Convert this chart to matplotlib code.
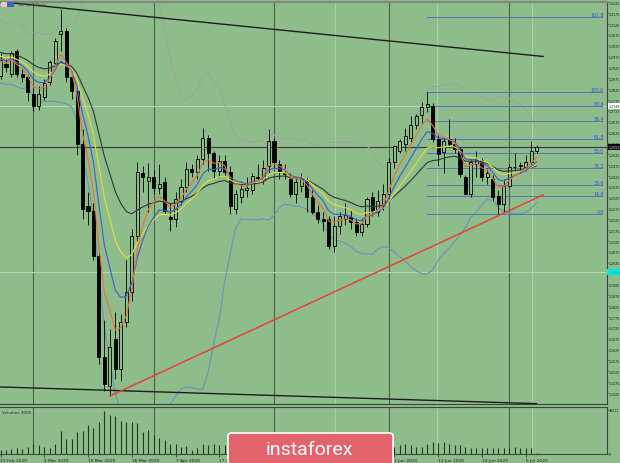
import matplotlib
matplotlib.use('Agg')
import matplotlib.pyplot as plt
import matplotlib.transforms as mtransforms
from matplotlib.patches import FancyBboxPatch, Rectangle
import numpy as np
import pandas as pd

# ---------------- data ----------------
dates = pd.bdate_range('2020-02-21', '2020-07-08')

opens = [1.2885, 1.2941, 1.2895, 1.3001, 1.2895, 1.2881, 1.2803, 1.2748, 1.2790, 1.2860,
         1.2945, 1.3079, 1.3093, 1.2881, 1.2817, 1.2573, 1.2287, 1.2264, 1.2056, 1.1590,
         1.1457, 1.1674, 1.1536, 1.1752, 1.1891, 1.2149, 1.2440, 1.2400, 1.2420, 1.2370,
         1.2397, 1.2236, 1.2227, 1.2310, 1.2374, 1.2457, 1.2443, 1.2503, 1.2600, 1.2530,
         1.2448, 1.2494, 1.2443, 1.2273, 1.2328, 1.2360, 1.2360, 1.2420, 1.2410, 1.2471,
         1.2586, 1.2480, 1.2440, 1.2411, 1.2342, 1.2380, 1.2402, 1.2328, 1.2259, 1.2227,
         1.2227, 1.2103, 1.2195, 1.2225, 1.2236, 1.2213, 1.2167, 1.2204, 1.2328, 1.2259,
         1.2287, 1.2342, 1.2490, 1.2540, 1.2573, 1.2600, 1.2660, 1.2705, 1.2745, 1.2750,
         1.2596, 1.2536, 1.2596, 1.2573, 1.2550, 1.2420, 1.2342, 1.2480, 1.2500, 1.2420,
         1.2411, 1.2333, 1.2296, 1.2379, 1.2467, 1.2470, 1.2467, 1.2490, 1.2540]
highs = [1.2990, 1.2965, 1.3000, 1.3010, 1.2925, 1.2890, 1.2830, 1.2840, 1.2870, 1.2960,
         1.3060, 1.3195, 1.3105, 1.2915, 1.2830, 1.2640, 1.2350, 1.2300, 1.2080, 1.1760,
         1.1720, 1.1798, 1.1790, 1.2040, 1.2180, 1.2490, 1.2470, 1.2485, 1.2455, 1.2480,
         1.2420, 1.2300, 1.2350, 1.2410, 1.2490, 1.2480, 1.2520, 1.2645, 1.2615, 1.2540,
         1.2520, 1.2520, 1.2470, 1.2360, 1.2400, 1.2420, 1.2440, 1.2480, 1.2500, 1.2642,
         1.2600, 1.2500, 1.2480, 1.2440, 1.2420, 1.2440, 1.2420, 1.2360, 1.2290, 1.2260,
         1.2240, 1.2240, 1.2260, 1.2300, 1.2270, 1.2230, 1.2230, 1.2330, 1.2350, 1.2360,
         1.2390, 1.2510, 1.2570, 1.2595, 1.2645, 1.2700, 1.2710, 1.2765, 1.2810, 1.2760,
         1.2620, 1.2600, 1.2690, 1.2600, 1.2560, 1.2430, 1.2500, 1.2540, 1.2510, 1.2460,
         1.2430, 1.2360, 1.2410, 1.2480, 1.2530, 1.2490, 1.2520, 1.2586, 1.2570]
lows = [1.2870, 1.2905, 1.2880, 1.2880, 1.2860, 1.2770, 1.2725, 1.2730, 1.2775, 1.2845,
        1.2930, 1.3000, 1.2860, 1.2780, 1.2520, 1.2227, 1.2200, 1.2040, 1.1560, 1.1434,
        1.1411, 1.1490, 1.1480, 1.1730, 1.1850, 1.2120, 1.2350, 1.2260, 1.2340, 1.2340,
        1.2250, 1.2170, 1.2190, 1.2290, 1.2350, 1.2420, 1.2410, 1.2480, 1.2450, 1.2410,
        1.2420, 1.2420, 1.2250, 1.2250, 1.2300, 1.2330, 1.2340, 1.2400, 1.2390, 1.2440,
        1.2460, 1.2410, 1.2410, 1.2330, 1.2300, 1.2350, 1.2260, 1.2250, 1.2210, 1.2170,
        1.2090, 1.2075, 1.2160, 1.2200, 1.2180, 1.2150, 1.2150, 1.2190, 1.2240, 1.2240,
        1.2270, 1.2330, 1.2460, 1.2530, 1.2540, 1.2580, 1.2640, 1.2670, 1.2720, 1.2580,
        1.2470, 1.2440, 1.2560, 1.2530, 1.2420, 1.2340, 1.2330, 1.2420, 1.2400, 1.2390,
        1.2310, 1.2250, 1.2260, 1.2370, 1.2450, 1.2440, 1.2450, 1.2480, 1.2530]
closes = [1.2960, 1.2927, 1.2993, 1.2895, 1.2881, 1.2812, 1.2748, 1.2803, 1.2855, 1.2950,
          1.3047, 1.3093, 1.2881, 1.2817, 1.2573, 1.2273, 1.2264, 1.2056, 1.1590, 1.1465,
          1.1637, 1.1536, 1.1752, 1.1891, 1.2149, 1.2444, 1.2420, 1.2420, 1.2370, 1.2390,
          1.2264, 1.2227, 1.2319, 1.2374, 1.2457, 1.2443, 1.2503, 1.2600, 1.2530, 1.2450,
          1.2494, 1.2443, 1.2287, 1.2342, 1.2365, 1.2370, 1.2425, 1.2418, 1.2460, 1.2586,
          1.2490, 1.2448, 1.2434, 1.2342, 1.2397, 1.2410, 1.2328, 1.2259, 1.2227, 1.2220,
          1.2103, 1.2195, 1.2241, 1.2245, 1.2213, 1.2167, 1.2204, 1.2319, 1.2259, 1.2310,
          1.2342, 1.2490, 1.2563, 1.2586, 1.2609, 1.2660, 1.2700, 1.2745, 1.2755, 1.2596,
          1.2526, 1.2586, 1.2573, 1.2550, 1.2434, 1.2342, 1.2490, 1.2500, 1.2420, 1.2440,
          1.2328, 1.2296, 1.2379, 1.2467, 1.2465, 1.2475, 1.2490, 1.2540, 1.2559]
# closes before the first visible bar (feed the moving averages / bands)
history_closes = [1.3075, 1.3075, 1.3010, 1.3005, 1.3085, 1.3205, 1.3000, 1.3020, 1.2995, 1.2935,
                  1.2890, 1.2915, 1.2950, 1.2975, 1.3045, 1.3045, 1.3005, 1.2990, 1.2955, 1.2885]
volumes = [9000, 8000, 10000, 11300, 10000, 14700, 21300, 18000, 14700, 11300,
           21300, 46000, 30000, 31300, 44700, 46000, 58000, 52700, 64700, 88000,
           79300, 78000, 66700, 64700, 64700, 63300, 44700, 48000, 38000, 32700,
           28000, 21300, 21300, 14700, 16700, 8000, 12700, 21300, 19300, 21300,
           18000, 19300, 20000, 18000, 16000, 15000, 14000, 15000, 16000, 20000,
           17000, 15000, 14000, 16000, 15000, 14000, 16000, 17000, 18000, 15000,
           19000, 20000, 16000, 14000, 15000, 13000, 10000, 17000, 16000, 14000,
           13000, 20000, 14700, 18000, 21300, 19300, 14700, 14700, 21300, 24700,
           23300, 24700, 21300, 18000, 18000, 14700, 12700, 12700, 12700, 12700,
           11300, 12700, 12700, 12700, 14700, 12700, 11300, 11300, 3000]

fib_levels = [0.0, 14.6, 23.6, 38.2, 50.0, 61.8, 76.4, 88.6, 100.0, 161.8]
fib_high_bar, fib_low_bar = 78, 91
trend_upper_x, trend_upper_y = [0.0, 99.2], [1.3228, 1.2976]
trend_lower_x, trend_lower_y = [0.0, 98.0], [1.1453, 1.1376]
trend_red_x, trend_red_y = [20.0, 99.2], [1.1411, 1.2338]
price_line = 1.2559
light_levels = [1.2748, 1.1983]
month_bars = [6, 28, 50, 71, 93]
light_vbars = [61.2, 79.8, 97.2]
vol_axis_max = 90211

# ---------------- style ----------------
BG = '#8fbc8b'
W, H, DPI = 620, 464, 100
def fx(px): return px / W
def fy(py): return 1 - py / H

fig = plt.figure(figsize=(W / DPI, H / DPI), dpi=DPI, facecolor=BG)
ax = fig.add_axes([0, fy(405), fx(607), (405 - 2.5) / H], facecolor=BG)
axv = fig.add_axes([0, fy(455), fx(607), (455 - 408) / H], facecolor=BG)

n = len(closes)
x = np.arange(n)
o = np.array(opens); h = np.array(highs); l = np.array(lows); c = np.array(closes)

xlim = ((0 - 0.5) / 5.47, (607 - 0.5) / 5.47)
ylim = (1.2250 - (405 - 215) / 2170, 1.2250 + (215 - 2.5) / 2170)

# grid / separators
for b in month_bars:
    ax.axvline(b, color='#4d5f4d', lw=0.8, zorder=1)
    axv.axvline(b, color='#4d5f4d', lw=0.8, zorder=1)
for b in light_vbars:
    ax.axvline(b, color='#a9cfa6', lw=0.8, zorder=1)
    axv.axvline(b, color='#a9cfa6', lw=0.8, zorder=1)
for lv in light_levels:
    ax.axhline(lv, color='#b2d8b0', lw=0.8, zorder=1)
ax.axhline(price_line, color='#3a3a3a', lw=0.8, zorder=2)

# indicators
allc = pd.Series(history_closes + closes)
mid = allc.rolling(20).mean()
sd = allc.rolling(20).std(ddof=0)
bb_up = (mid + 2 * sd).values[-n:]
bb_lo = (mid - 2 * sd).values[-n:]
ax.plot(x, bb_up, color='#9ba79b', lw=0.8, zorder=2)
ax.plot(x, bb_lo, color='#6d93b3', lw=0.8, zorder=2)
ema_colors = {21: '#2f3b34', 13: '#e2df3c', 8: '#3a5fd0', 5: '#e6703c'}
for span, col in ema_colors.items():
    ax.plot(x, allc.ewm(span=span, adjust=False).mean().values[-n:], color=col, lw=0.8, zorder=4)

# candles
up = c >= o
ax.vlines(x, l, h, color='black', lw=0.6, zorder=3)
bb = np.minimum(o, c)
bh = np.maximum(np.abs(c - o), 0.0003)
ax.bar(x[up], bh[up], bottom=bb[up], width=0.56, facecolor=BG, edgecolor='black', linewidth=0.6, zorder=3.5)
ax.bar(x[~up], bh[~up], bottom=bb[~up], width=0.56, facecolor='black', edgecolor='black', linewidth=0.6, zorder=3.5)

# trendlines
ax.plot(trend_upper_x, trend_upper_y, color='#1c1c1c', lw=1.0, zorder=5)
ax.plot(trend_lower_x, trend_lower_y, color='#1c1c1c', lw=1.0, zorder=5)
ax.plot(trend_red_x, trend_red_y, color='#e8413a', lw=1.1, zorder=5)

# fibonacci
f_hi, f_lo = highs[fib_high_bar], lows[fib_low_bar]
x_end = (602 - 0.5) / 5.47
for lvl in fib_levels:
    p = f_lo + (f_hi - f_lo) * lvl / 100
    ax.plot([fib_high_bar, x_end], [p, p], color='#5474bd', lw=0.7, zorder=2.5)
    ax.text(x_end + 0.3, p, f'{lvl:.1f}', ha='right', va='bottom', fontsize=3.3,
            color='#2f55d0', zorder=6)

ax.set_xlim(*xlim)
ax.set_ylim(*ylim)
ax.set_xticks([])
yt = np.round(np.arange(1.1425, 1.3226, 0.005), 4)
ax.set_yticks(yt)
ax.set_yticklabels(['' if min(abs(v - q) for q in light_levels[1:]) < 0.001 else f'{v:.4f}'
                    for v in yt])
ax.yaxis.tick_right()
ax.tick_params(axis='y', labelsize=2.3, length=1, width=0.5, pad=0.2, colors='#1a1a1a')
ax.spines['left'].set_visible(False)
ax.spines['right'].set_color('#3c463c')
ax.spines['bottom'].set_color('#3c463c')
ax.spines['top'].set_color('#7d8a7d')
ax.spines['top'].set_linewidth(1.6)

# highlighted price labels
bt = mtransforms.blended_transform_factory(ax.transAxes, ax.transData)
ax.text(1.002, price_line, f'{price_line:.4f}', transform=bt, fontsize=2.3, color='white',
        va='center', ha='left', bbox=dict(boxstyle='square,pad=0.2', fc='black', ec='none'),
        zorder=7, clip_on=False)
ax.text(1.002, light_levels[0], f'{light_levels[0]:.4f}', transform=bt, fontsize=2.3,
        color='#202020', va='center', ha='left',
        bbox=dict(boxstyle='square,pad=0.2', fc='white', ec='none'), zorder=7, clip_on=False)
ax.text(1.002, light_levels[1], f'{light_levels[1]:.4f}', transform=bt, fontsize=2.3,
        color='#00bcbc', va='center', ha='left',
        bbox=dict(boxstyle='square,pad=0.3', fc='#00e8e8', ec='none'), zorder=7, clip_on=False)

# volumes
axv.vlines(x, 0, volumes, color='#1f3b1f', lw=0.8, zorder=3)
axv.set_xlim(*xlim)
axv.set_ylim(0, 95500)
axv.set_yticks([0, vol_axis_max])
axv.set_yticklabels(['0', str(vol_axis_max)])
axv.yaxis.tick_right()
axv.tick_params(axis='y', labelsize=2.3, length=1, width=0.5, pad=0.2, colors='#1a1a1a')
tick_idx = list(range(0, n, 8))
axv.set_xticks(tick_idx)
axv.set_xticklabels([f'{dates[i].day} {dates[i].strftime("%b %Y")}' for i in tick_idx],
                    ha='left')
axv.tick_params(axis='x', labelsize=3.2, length=2, width=0.5, pad=1, colors='#1a1a1a')
axv.spines['left'].set_visible(False)
for s in ['right', 'top', 'bottom']:
    axv.spines[s].set_color('#3c463c')
axv.text(0.004, 0.93, 'Volumes 3005', transform=axv.transAxes, fontsize=3.0,
         color='#2a2a2a', va='top', ha='left')

# header
fig.patches.append(Rectangle((fx(1), fy(8)), fx(6), 5 / H, transform=fig.transFigure,
                             fc='#f2c0c8', ec='none'))
fig.patches.append(Rectangle((fx(7), fy(8)), fx(7), 5 / H, transform=fig.transFigure,
                             fc='#3e5fc8', ec='none'))
fig.text(fx(18), fy(5), 'GBPUSD,Daily', fontsize=3, color='#4a4a4a', va='center', ha='left')

# logo
fig.patches.append(FancyBboxPatch((fx(228), fy(470)), fx(165), 36 / H,
                                  boxstyle='round,pad=0,rounding_size=0.006',
                                  transform=fig.transFigure, fc='#e2636b', ec='white',
                                  lw=1.2, zorder=10))
fig.text(fx(309), fy(455), 'instaforex', fontsize=14, color='white', ha='center',
         va='baseline', family='Roboto', zorder=11)

fig.savefig('out.png', dpi=DPI, facecolor=BG)
